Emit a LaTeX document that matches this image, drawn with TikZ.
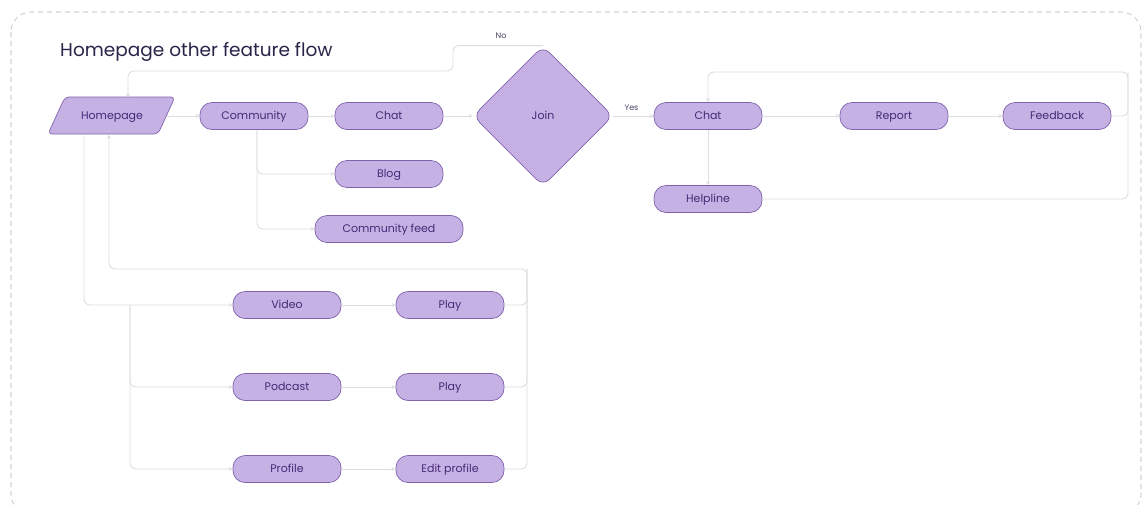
\documentclass[tikz,border=0pt]{standalone}
\usepackage{fontspec}
\setmainfont{Poppins}
\usetikzlibrary{shapes.geometric,arrows.meta,calc}
\definecolor{boxfill}{RGB}{198,177,229}
\definecolor{boxline}{RGB}{128,98,172}
\definecolor{boxtext}{RGB}{70,42,118}
\definecolor{connc}{RGB}{222,222,225}
\definecolor{framec}{RGB}{212,212,214}
\definecolor{titlec}{RGB}{43,35,72}
\tikzset{
  nodefont/.style={font=\fontsize{11}{13}\selectfont, text height=7.6pt, text depth=0.6pt},
  pill/.style={draw=boxline, fill=boxfill, text=boxtext, line width=0.7pt,
    rounded corners=12pt, minimum width=108pt, minimum height=27pt, inner sep=0pt, nodefont},
  conn/.style={draw=connc, line width=0.9pt, rounded corners=6pt},
  arr/.style={conn, -{Stealth[length=4pt,width=4pt]}},
  lbl/.style={text=titlec!85, font=\fontsize{8}{10}\selectfont, inner sep=0pt}
}
\begin{document}
\begin{tikzpicture}[x=1pt,y=-1pt]
\useasboundingbox (0,0) rectangle (1143,504);
\fill[white] (0,0) rectangle (1143,504);
\draw[framec, line width=1.1pt, dash pattern=on 5pt off 4pt, rounded corners=20pt] (11,12) rectangle (1141,514);

\node[anchor=base west, text=titlec, inner sep=0pt, font=\fontsize{18.5}{22}\selectfont] (title) at (60,56) {Homepage other feature flow};

% homepage parallelogram
\draw[draw=boxline, fill=boxfill, line width=0.7pt, rounded corners=4pt]
  (65,97) -- (175,97) -- (158,134) -- (48,134) -- cycle;
\node[text=boxtext, inner sep=0pt, minimum width=110pt, minimum height=37pt, nodefont] (hp) at (112,116) {Homepage};

% nodes
\node[pill] (comm) at (254,116) {Community};
\node[pill] (chat1) at (389,116) {Chat};
\node[diamond, aspect=1, draw=boxline, fill=boxfill, text=boxtext, line width=0.7pt,
  rounded corners=9pt, minimum width=140pt, minimum height=140pt, inner sep=0pt,
  nodefont] (join) at (543,116) {Join};
\node[pill] (chat2) at (708,116) {Chat};
\node[pill] (report) at (894,116) {Report};
\node[pill] (fb) at (1057,116) {Feedback};
\node[pill] (help) at (708,199) {Helpline};
\node[pill] (blog) at (389,174) {Blog};
\node[pill, minimum width=148pt] (cf) at (389,229) {Community feed};
\node[pill] (video) at (287,305) {Video};
\node[pill] (play1) at (450,305) {Play};
\node[pill] (pod) at (287,387) {Podcast};
\node[pill] (play2) at (450,387) {Play};
\node[pill] (prof) at (287,469) {Profile};
\node[pill] (edit) at (450,469) {Edit profile};

% helper coordinates
\coordinate (nobend) at (453,71);
\coordinate (loopr) at (1128,72);
\coordinate (cbr) at (257,0);
\coordinate (hpdown) at (84,0);
\coordinate (br) at (130,305);
\coordinate (ret) at (109,0);
\coordinate (rr) at (527,269);

% connectors top row
\draw[arr] (hp.east) -- (comm.west);
\draw[arr] (comm.east) -- (chat1.west);
\draw[arr] (chat1.east) -- (join.west);
\draw[arr] (join.east) -- node[lbl, above=5pt, pos=0.45] {Yes} (chat2.west);
\draw[arr] (join.north) -| (nobend) -| ([xshift=16pt]hp.north);
\node[lbl] (nolbl) at (501,36) {No};
\draw[arr] (chat2.east) -- (report.west);
\draw[arr] (report.east) -- (fb.west);
\draw[arr] (fb.east) -| (loopr) -| (chat2.north);
\draw[conn] (help.east) -| (loopr);
\draw[arr] (chat2.south) -- (help.north);

% community branches
\draw[arr] (comm.south -| cbr) |- (blog.west);
\draw[arr] (comm.south -| cbr) |- (cf.west);

% homepage lower branches
\draw[arr] (hp.south -| hpdown) |- (video.west);
\draw[arr] (br) |- (pod.west);
\draw[arr] (br) |- (prof.west);
\draw[arr] (video.east) -- (play1.west);
\draw[arr] (pod.east) -- (play2.west);
\draw[arr] (prof.east) -- (edit.west);
\draw[arr] (play1.east) -| (rr) -| (hp.south -| ret);
\draw[conn] (play2.east) -| (rr);
\draw[conn] (edit.east) -| (rr);
\end{tikzpicture}
\end{document}
